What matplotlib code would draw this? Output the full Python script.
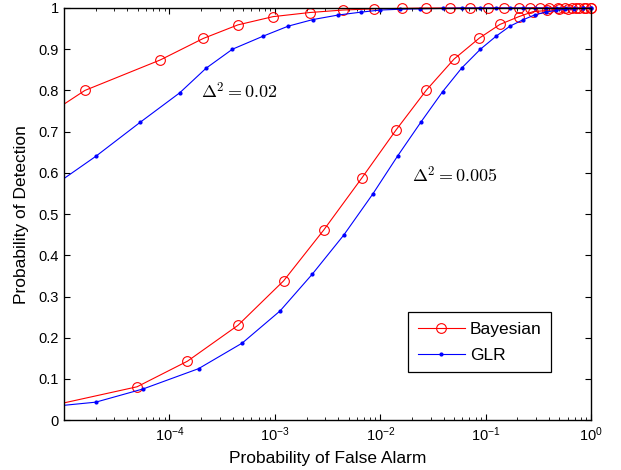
import numpy as np
import matplotlib
matplotlib.use("Agg")
from matplotlib import pyplot as plt
from matplotlib.ticker import LogLocator, NullFormatter
from matplotlib.transforms import Bbox, TransformedBbox

plt.rcParams['font.family'] = ['Liberation Sans', 'DejaVu Sans']
plt.rcParams['mathtext.fontset'] = 'custom'
plt.rcParams['mathtext.rm'] = 'Liberation Sans'
plt.rcParams['mathtext.it'] = 'Liberation Sans:italic'
plt.rcParams['mathtext.bf'] = 'Liberation Sans:bold'

# delta^2 = 0.02
bay_hi_pfa = [4e-6, 1.58e-5, 8.2e-5, 2.09e-4, 4.46e-4, 9.6e-4, 2.14e-3, 4.4e-3, 8.8e-3,
              0.016, 0.027, 0.046, 0.071, 0.105, 0.148, 0.205, 0.265, 0.33, 0.40,
              0.48, 0.57, 0.66, 0.77, 0.89, 1.0]
bay_hi_pd = [0.70, 0.80, 0.874, 0.926, 0.959, 0.979, 0.989, 0.995, 0.998,
             0.999, 1.0, 1.0, 1.0, 1.0, 1.0, 1.0, 1.0, 1.0, 1.0,
             1.0, 1.0, 1.0, 1.0, 1.0, 1.0]
glr_hi_pfa = [6.6e-6, 2.0e-5, 5.3e-5, 1.25e-4, 2.23e-4, 3.96e-4, 7.8e-4, 1.34e-3, 2.3e-3,
              4.0e-3, 6.6e-3, 0.010, 0.0155, 0.024, 0.039, 0.059, 0.089, 0.126,
              0.17, 0.224, 0.29, 0.37, 0.46, 0.57, 0.68, 0.83, 1.0]
glr_hi_pd = [0.554, 0.640, 0.723, 0.794, 0.854, 0.900, 0.932, 0.956, 0.972,
             0.983, 0.990, 0.995, 0.997, 0.998, 0.999, 1.0, 1.0, 1.0,
             1.0, 1.0, 1.0, 1.0, 1.0, 1.0, 1.0, 1.0, 1.0]

# delta^2 = 0.005
bay_lo_pfa = [5.9e-6, 4.93e-5, 1.48e-4, 4.46e-4, 1.21e-3, 2.9e-3, 6.7e-3, 0.0141,
              0.0274, 0.050, 0.087, 0.136, 0.206, 0.28, 0.38, 0.50, 0.60, 0.72,
              0.85, 1.0]
bay_lo_pd = [0.029, 0.081, 0.143, 0.230, 0.338, 0.461, 0.588, 0.704,
             0.801, 0.876, 0.927, 0.960, 0.979, 0.991, 0.994, 0.997, 0.998, 0.999,
             1.0, 1.0]
glr_lo_pfa = [6.6e-6, 2.0e-5, 5.66e-5, 1.89e-4, 4.9e-4, 1.12e-3, 2.26e-3, 4.5e-3,
              8.45e-3, 0.0146, 0.0244, 0.039, 0.059, 0.089, 0.126, 0.170, 0.224,
              0.29, 0.37, 0.46, 0.57, 0.68, 0.83, 1.0]
glr_lo_pd = [0.0315, 0.0437, 0.076, 0.125, 0.187, 0.265, 0.354, 0.449,
             0.548, 0.641, 0.724, 0.797, 0.854, 0.900, 0.932, 0.956, 0.971,
             0.983, 0.990, 0.994, 0.997, 0.998, 0.999, 1.0]

fig = plt.figure(figsize=(6.21, 4.70), dpi=100)
ax = fig.add_axes([0.103, 0.106, 0.849, 0.877])

red_kw = dict(color='red', lw=0.8, marker='o', ms=7, mfc='none', mew=0.8)
blue_kw = dict(color='blue', lw=0.8, marker='.', ms=4)

lines = []
lines += ax.semilogx(bay_hi_pfa, bay_hi_pd, label='Bayesian', **red_kw)
lines += ax.semilogx(glr_hi_pfa, glr_hi_pd, label='GLR', **blue_kw)
lines += ax.semilogx(bay_lo_pfa, bay_lo_pd, **red_kw)
lines += ax.semilogx(glr_lo_pfa, glr_lo_pd, **blue_kw)

# clip only on the left/bottom, like matlab lets markers spill over top/right
clip = TransformedBbox(Bbox([[0, -0.1], [1.1, 1.1]]), ax.transAxes)
for ln in lines:
    ln.set_clip_box(clip)

ax.set_xlim(1e-5, 1)
ax.set_ylim(0, 1)
ax.set_yticks(np.arange(0, 1.01, 0.1))
ax.set_yticklabels(['0', '0.1', '0.2', '0.3', '0.4', '0.5', '0.6', '0.7', '0.8', '0.9', '1'])
ax.set_xticks([1e-4, 1e-3, 1e-2, 1e-1, 1])
ax.xaxis.set_minor_locator(LogLocator(base=10, subs=np.arange(2, 10), numticks=20))
ax.xaxis.set_minor_formatter(NullFormatter())

ax.tick_params(which='both', direction='in', top=True, right=True, labelsize=10.5)
ax.tick_params(which='major', length=4.5, width=0.8)
ax.tick_params(which='minor', length=2.5, width=0.6)
for s in ax.spines.values():
    s.set_linewidth(1.0)

ax.set_xlabel('Probability of False Alarm', fontsize=12.5, labelpad=5)
ax.set_ylabel('Probability of Detection', fontsize=12.5, labelpad=7)

ax.text(2e-4, 0.78, r'$\Delta^2 = 0.02$', fontsize=13, math_fontfamily='cm', va='baseline')
ax.text(0.02, 0.578, r'$\Delta^2 = 0.005$', fontsize=13, math_fontfamily='cm', va='baseline')

leg = ax.legend(loc='lower right', bbox_to_anchor=(0.924, 0.1165), borderaxespad=0,
                fontsize=12.5, fancybox=False, edgecolor='black', framealpha=1,
                handlelength=2.7, handletextpad=0.3, labelspacing=0.6, borderpad=0.55)
leg.get_frame().set_linewidth(0.9)

plt.savefig('out.png', dpi=100)
